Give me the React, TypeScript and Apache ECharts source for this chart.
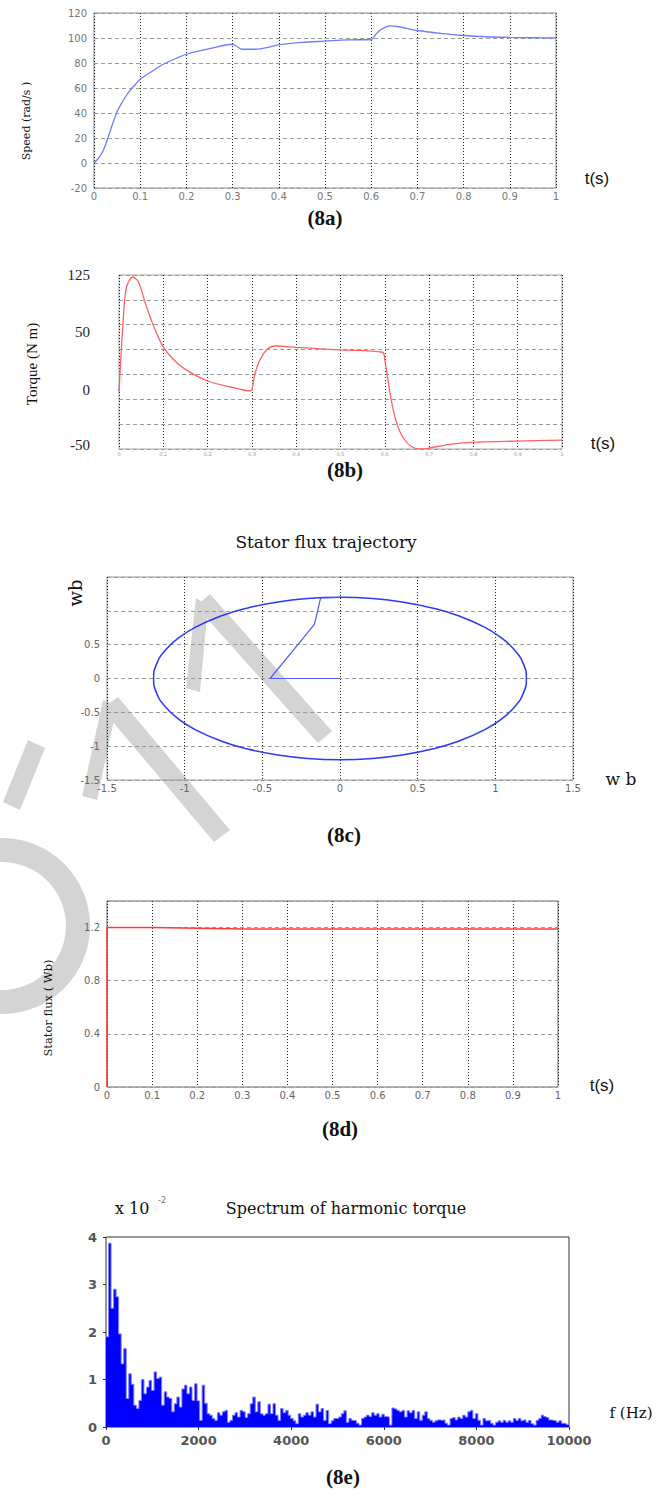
import React, { useEffect, useRef } from "react";
import * as echarts from "echarts";

// ---------- (8a) rotor speed ----------
const SPEED_T = [0, 0.01, 0.02, 0.03, 0.04, 0.05, 0.06, 0.07, 0.08, 0.09, 0.1, 0.12, 0.15, 0.18, 0.2, 0.25, 0.3, 0.31, 0.32, 0.35, 0.4, 0.45, 0.5, 0.55, 0.6, 0.61, 0.62, 0.64, 0.66, 0.7, 0.75, 0.8, 0.85, 0.9, 0.95, 1.0];
const SPEED_V = [0, 4, 10, 20, 31, 41, 48, 54, 59, 63, 67, 72, 79, 84, 87, 91.5, 95, 93, 91, 91, 94.5, 96.5, 97.5, 98.5, 98.8, 103, 106.5, 109.7, 109, 106, 103.7, 102, 101, 100.5, 100.2, 100];

// ---------- (8b) electromagnetic torque ----------
const TORQUE_T = [0, 0.01, 0.017, 0.031, 0.044, 0.062, 0.077, 0.098, 0.123, 0.149, 0.2, 0.25, 0.296, 0.3, 0.307, 0.318, 0.333, 0.352, 0.4, 0.45, 0.5, 0.595, 0.6, 0.607, 0.616, 0.627, 0.642, 0.661, 0.679, 0.697, 0.747, 0.796, 0.898, 1.0];
const TORQUE_V = [7.6, 83, 113, 123, 118, 93, 75, 54, 40, 30.3, 18.4, 12.6, 8.6, 9.5, 26, 39.5, 49.6, 53.6, 52.3, 51, 49.6, 47.3, 39.6, 19.4, -4, -24, -39.2, -47.7, -50, -49.3, -45.3, -43.3, -42, -41];
const TORQUE_LABEL_AT = [125, 67.7, 9.3, -46];
const TORQUE_LABEL_TEXT = ["125", "50", "0", "-50"];

// ---------- (8c) stator flux trajectory ----------
const START_ALPHA = [0, -0.45, -0.3, -0.165, -0.144, -0.127, -0.12, 0];
const START_BETA = [0, 0, 0.42, 0.8, 1.0, 1.17, 1.19, 1.2];
const CIRCLE_ALPHA = [0, -0.2084, -0.4104, -0.6, -0.7713, -0.9193, -1.0392, -1.1276, -1.1818, -1.2, -1.1818, -1.1276, -1.0392, -0.9193, -0.7713, -0.6, -0.4104, -0.2084, 0, 0.2084, 0.4104, 0.6, 0.7713, 0.9193, 1.0392, 1.1276, 1.1818, 1.2, 1.1818, 1.1276, 1.0392, 0.9193, 0.7713, 0.6, 0.4104, 0.2084, 0];
const CIRCLE_BETA = [1.2, 1.1818, 1.1276, 1.0392, 0.9193, 0.7713, 0.6, 0.4104, 0.2084, 0, -0.2084, -0.4104, -0.6, -0.7713, -0.9193, -1.0392, -1.1276, -1.1818, -1.2, -1.1818, -1.1276, -1.0392, -0.9193, -0.7713, -0.6, -0.4104, -0.2084, 0, 0.2084, 0.4104, 0.6, 0.7713, 0.9193, 1.0392, 1.1276, 1.1818, 1.2];

// ---------- (8d) stator flux magnitude ----------
const FLUXMAG_T = [0, 0, 0.02, 0.1, 0.3, 0.5, 0.7, 0.9, 1.0];
const FLUXMAG_V = [0, 1.2, 1.2, 1.2, 1.19, 1.19, 1.19, 1.19, 1.19];

// ---------- (8e) harmonic torque spectrum (x 10^-2) ----------
const SPECTRUM = [
  1.9, 3.87, 2.5, 2.9, 2.74, 1.96, 1.33, 1.65, 0.6, 1.12, 0.9, 0.46, 0.39, 0.56, 1.0, 0.7, 0.84, 0.98, 0.77, 1.16,
  1.02, 1.05, 0.46, 0.74, 0.63, 0.6, 0.32, 0.49, 0.63, 0.42, 0.8, 0.88, 0.7, 0.84, 0.56, 0.91, 0.55, 0.14, 0.88, 0.5,
  0.28, 0.25, 0.18, 0.14, 0.3, 0.25, 0.32, 0.35, 0.1, 0.14, 0.25, 0.3, 0.21, 0.35, 0.32, 0.2, 0.28, 0.49, 0.63, 0.32,
  0.53, 0.28, 0.25, 0.28, 0.48, 0.28, 0.49, 0.25, 0.14, 0.39, 0.3, 0.35, 0.25, 0.18, 0.13, 0.07, 0.28, 0.21, 0.25, 0.3,
  0.25, 0.32, 0.21, 0.48, 0.32, 0.39, 0.14, 0.35, 0.07, 0.13, 0.18,
  0.18, 0.21, 0.28, 0.34, 0.1, 0.18, 0.14, 0.13, 0.08, 0.04, 0.18, 0.21, 0.25, 0.22, 0.3, 0.25, 0.28, 0.21, 0.27, 0.22,
  0.21, 0.04, 0.4, 0.38, 0.35, 0.32, 0.35, 0.21, 0.34, 0.3, 0.35, 0.18, 0.32, 0.14, 0.25, 0.32, 0.18, 0.14, 0.1, 0.13,
  0.15, 0.14, 0.15, 0.08, 0.04, 0.18, 0.2, 0.15, 0.21, 0.18, 0.25, 0.21, 0.32, 0.35, 0.18, 0.28, 0.14, 0.04, 0.18, 0.13,
  0.14, 0.08, 0.04, 0.1, 0.13, 0.1, 0.14, 0.1, 0.13, 0.1, 0.18, 0.14, 0.18, 0.13, 0.15, 0.1, 0.14, 0.07, 0.04, 0.14,
  0.18, 0.25, 0.22, 0.2, 0.15, 0.14, 0.13, 0.1, 0.13, 0.08, 0.07, 0.05,
];
const F_MAX = 10000;

const zip = (a: number[], b: number[]) => a.map((x, i) => [x, b[i]]);

const SANS = '"DejaVu Sans", Arial, sans-serif';
const ARIAL = '"Liberation Sans", Arial, sans-serif';
const SERIF = '"Liberation Serif", "Times New Roman", serif';
const WSERIF = '"DejaVu Serif", serif';

const vSplit = { show: true, lineStyle: { color: "#222", type: [1, 2] as any, width: 1 } };
const hSplit = { show: true, lineStyle: { color: "#9a9a9a", type: [4, 3] as any, width: 1 } };

function txt(text: string, x: number, y: number, font: string, opts: any = {}) {
  return {
    type: "text",
    x,
    y,
    rotation: opts.rot || 0,
    z: 20,
    style: {
      text,
      font,
      fill: opts.fill || "#111",
      textAlign: opts.align || "center",
      align: opts.align || "center",
      textVerticalAlign: "middle",
      verticalAlign: "middle",
    },
  };
}

const WM = "#d4d4d4";

export default function App() {
  const ref = useRef<HTMLDivElement>(null);
  useEffect(() => {
    if (!ref.current) return;
    const chart = echarts.init(ref.current, null, { renderer: "svg" });
    const binHz = F_MAX / SPECTRUM.length;
    const spec = SPECTRUM.map((v, i) => [i * binHz, v]);
    spec.push([F_MAX, SPECTRUM[SPECTRUM.length - 1]]);

    const baseX = (gridIndex: number, min: number, max: number, interval: number, labelOpts: any, split: any) => ({
      type: "value",
      gridIndex,
      min,
      max,
      interval,
      z: 3,
      axisLine: { show: false },
      axisTick: { show: false },
      splitLine: split,
      axisLabel: labelOpts,
    });

    const option: any = {
      animation: false,
      backgroundColor: "#ffffff",
      grid: [
        { left: 94, top: 13, width: 462, height: 175, show: true, borderColor: "#8a8a8a", borderWidth: 1 },
        { left: 119, top: 275, width: 443, height: 174, show: true, borderColor: "#a8a8a8", borderWidth: 1 },
        { left: 107, top: 577, width: 466, height: 203, show: true, borderColor: "#999999", borderWidth: 1 },
        { left: 107, top: 901, width: 451, height: 186, show: true, borderColor: "#666666", borderWidth: 1 },
        { left: 106, top: 1237, width: 463, height: 190, show: true, borderColor: "#333333", borderWidth: 1 },
      ],
      xAxis: [
        baseX(0, 0, 1, 0.1, { fontFamily: SANS, fontSize: 10, color: "#777", margin: 3 }, vSplit),
        baseX(1, 0, 1, 0.1, { fontFamily: SANS, fontSize: 5, color: "#999", margin: 2 }, vSplit),
        baseX(2, -1.5, 1.5, 0.5, { fontFamily: SANS, fontSize: 10, color: "#666", margin: 3 }, vSplit),
        baseX(3, 0, 1, 0.1, { fontFamily: SANS, fontSize: 10, color: "#666", margin: 3 }, vSplit),
        baseX(4, 0, F_MAX, 2000, {
          fontFamily: SANS, fontSize: 13, fontWeight: "bold", color: "#555", margin: 7,
          formatter: (v: number) => String(v),
        }, { show: false }),
        {
          type: "value", gridIndex: 4, position: "top", min: 0, max: F_MAX, interval: 2000,
          axisLine: { show: false }, axisLabel: { show: false }, splitLine: { show: false },
          axisTick: { show: true, inside: true, length: 3, lineStyle: { color: "#333" } },
        },
      ],
      yAxis: [
        {
          type: "value", gridIndex: 0, min: -20, max: 120, interval: 20, z: 3,
          axisLine: { show: false }, axisTick: { show: false }, splitLine: hSplit,
          axisLabel: { fontFamily: SANS, fontSize: 10, color: "#777", margin: 7 },
        },
        {
          type: "value", gridIndex: 1, min: -50, max: 125, interval: 25, z: 3,
          axisLine: { show: false }, axisTick: { show: false }, splitLine: hSplit,
          axisLabel: { show: false },
        },
        {
          type: "value", gridIndex: 1, min: -50, max: 125, position: "left", z: 3,
          axisLine: { show: false }, axisTick: { show: false }, splitLine: { show: false },
          axisLabel: {
            customValues: TORQUE_LABEL_AT,
            fontFamily: SERIF, fontSize: 15, color: "#222", margin: 29,
            formatter: (v: number) => {
              const i = TORQUE_LABEL_AT.findIndex((p) => Math.abs(p - v) < 0.05);
              return i >= 0 ? TORQUE_LABEL_TEXT[i] : "";
            },
          },
        },
        {
          type: "value", gridIndex: 2, min: -1.5, max: 1.5, interval: 0.5, z: 3,
          axisLine: { show: false }, axisTick: { show: false }, splitLine: hSplit,
          axisLabel: {
            fontFamily: SANS, fontSize: 10, color: "#666", margin: 7,
            formatter: (v: number) => (v > 0.6 ? "" : String(v)),
          },
        },
        {
          type: "value", gridIndex: 3, min: 0, max: 1.4, interval: 0.4, z: 3,
          axisLine: { show: false }, axisTick: { show: false }, splitLine: hSplit,
          axisLabel: {
            fontFamily: SANS, fontSize: 10, color: "#666", margin: 7,
            formatter: (v: number) => (v > 1.3 ? "" : String(Math.round(v * 10) / 10)),
          },
        },
        {
          type: "value", gridIndex: 4, min: 0, max: 4, interval: 1, z: 3,
          axisLine: { show: false }, axisTick: { show: false }, splitLine: { show: false },
          axisLabel: { fontFamily: SANS, fontSize: 13, fontWeight: "bold", color: "#555", margin: 9 },
        },
        {
          type: "value", gridIndex: 4, position: "right", min: 0, max: 4, interval: 1,
          axisLine: { show: false }, axisLabel: { show: false }, splitLine: { show: false },
          axisTick: { show: true, inside: true, length: 3, lineStyle: { color: "#333" } },
        },
      ],
      series: [
        {
          type: "line", xAxisIndex: 0, yAxisIndex: 0, data: zip(SPEED_T, SPEED_V),
          showSymbol: false, symbol: "none", smooth: 0.3, lineStyle: { color: "#6f7dff", width: 1.3 }, z: 5,
        },
        {
          type: "line", xAxisIndex: 1, yAxisIndex: 1, data: zip(TORQUE_T, TORQUE_V),
          showSymbol: false, symbol: "none", smooth: 0.3, lineStyle: { color: "#ff6262", width: 1.3 }, z: 5,
        },
        {
          type: "line", xAxisIndex: 2, yAxisIndex: 3, data: zip(CIRCLE_ALPHA, CIRCLE_BETA),
          showSymbol: false, symbol: "none", smooth: true, lineStyle: { color: "#2a3cf0", width: 1.5 }, z: 5,
        },
        {
          type: "line", xAxisIndex: 2, yAxisIndex: 3, data: zip(START_ALPHA, START_BETA),
          showSymbol: false, symbol: "none", lineStyle: { color: "#4d5cf2", width: 1.2 }, z: 5,
        },
        {
          type: "line", xAxisIndex: 3, yAxisIndex: 4, data: zip(FLUXMAG_T, FLUXMAG_V),
          showSymbol: false, symbol: "none", lineStyle: { color: "#ff3a3a", width: 1.5 }, z: 5,
        },
        {
          type: "line", xAxisIndex: 4, yAxisIndex: 5, data: spec, step: "end",
          showSymbol: false, symbol: "none", lineStyle: { color: "#7f7fff", width: 1 },
          areaStyle: { color: "#0000ff", opacity: 1 }, z: 5,
        },
      ],
      graphic: [
        // faded watermark (drawn beneath the axes and curves)
        { type: "ring", z: -10, shape: { cx: 2, cy: 926, r: 88, r0: 64 }, style: { fill: WM } },
        { type: "polygon", z: -10, shape: { points: [[196, 606], [210, 594], [332, 731], [318, 743]] }, style: { fill: WM } },
        { type: "polygon", z: -10, shape: { points: [[196, 598], [208, 606], [200, 692], [186, 688]] }, style: { fill: WM } },
        { type: "polygon", z: -10, shape: { points: [[102, 709], [118, 697], [230, 830], [214, 842]] }, style: { fill: WM } },
        { type: "polygon", z: -10, shape: { points: [[103, 700], [117, 706], [97, 800], [82, 796]] }, style: { fill: WM } },
        { type: "polygon", z: -10, shape: { points: [[28, 740], [45, 748], [20, 810], [3, 802]] }, style: { fill: WM } },

        // (8a)
        txt("Speed (rad/s )", 26, 121, `11px ${WSERIF}`, { rot: Math.PI / 2 }),
        txt("t(s)", 597, 178, `17px ${ARIAL}`),
        txt("(8a)", 325, 218, `bold 21px ${SERIF}`),
        // (8b)
        txt("Torque (N m)", 32, 364, `15px ${SERIF}`, { rot: Math.PI / 2 }),
        txt("t(s)", 603, 443, `17px ${ARIAL}`),
        txt("(8b)", 345, 470, `bold 21px ${SERIF}`),
        // (8c)
        txt("Stator flux trajectory", 326, 542, `17px ${WSERIF}`),
        txt("wb", 75, 593, `18px ${WSERIF}`, { rot: Math.PI / 2 }),
        txt("w b", 621, 779, `17px ${WSERIF}`),
        txt("(8c)", 344, 835, `bold 21px ${SERIF}`),
        // (8d)
        txt("Stator flux ( Wb)", 48, 1008, `11.5px ${WSERIF}`, { rot: Math.PI / 2 }),
        txt("t(s)", 602, 1085, `17px ${ARIAL}`),
        txt("(8d)", 340, 1129, `bold 21px ${SERIF}`),
        // (8e)
        txt("x 10", 115, 1208, `16px ${WSERIF}`, { align: "left" }),
        txt("-2", 158, 1200, `8px ${SANS}`, { align: "left", fill: "#777" }),
        txt("Spectrum of harmonic torque", 346, 1208, `16px ${WSERIF}`),
        txt("f (Hz)", 631, 1413, `15px ${WSERIF}`),
        txt("(8e)", 343, 1477, `bold 21px ${SERIF}`),
      ],
    };
    chart.setOption(option);
    return () => chart.dispose();
  }, []);

  return (
    <div
      ref={ref}
      style={{ position: "absolute", left: 0, top: 0, width: 667, height: 1498, background: "#fff" }}
    />
  );
}
